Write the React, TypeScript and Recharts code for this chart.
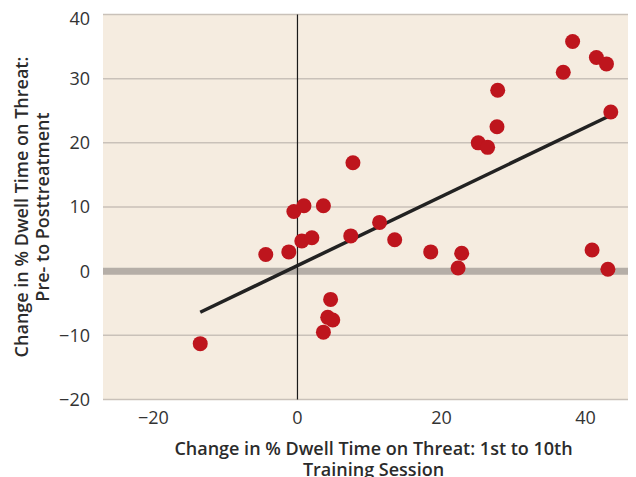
import {
  ScatterChart,
  Scatter,
  XAxis,
  YAxis,
  CartesianGrid,
  ReferenceLine,
} from 'recharts';

// change in dwell time, 1st to 10th training session
const trainingChange = [
  -13.5, -4.4, -1.2, -0.5, 0.9, 0.6, 2.0, 3.6, 3.6, 4.2, 4.6, 4.9, 7.4, 7.7,
  11.4, 13.5, 18.5, 22.3, 22.8, 25.1, 26.4, 27.7, 27.8, 36.9, 38.2, 40.9,
  41.5, 42.9, 43.1, 43.5,
];

// change in dwell time, pre- to posttreatment
const treatmentChange = [
  -11.3, 2.6, 3.0, 9.3, 10.2, 4.7, 5.2, 10.2, -9.5, -7.2, -4.4, -7.6, 5.5, 16.9,
  7.6, 4.9, 3.0, 0.5, 2.8, 20.0, 19.3, 22.5, 28.2, 31.0, 35.8, 3.3, 33.3, 32.3,
  0.3, 24.8,
];

const fitX = [-13.5, 43.5];
const fitY = [-6.4, 24.3];

const xTicks = [-20, 0, 20, 40];
const yTicks = [-20, -10, 0, 10, 20, 30, 40];

const points = trainingChange.map((x, i) => ({ x, y: treatmentChange[i] }));
const fitLine = fitX.map((x, i) => ({ x, y: fitY[i] }));

const FONT = '"Open Sans", Lato, sans-serif';
const fmt = (v: number) => (v < 0 ? `\u2212${Math.abs(v)}` : `${v}`);

const XTitle = ({ viewBox }: any) => {
  const { x, y, width } = viewBox;
  const cx = x + width / 2 + 4;
  return (
    <text x={cx} y={y + 55} textAnchor="middle" fontFamily={FONT} fontWeight={600} fontSize={18} fill="#2b2b2b">
      <tspan x={cx}>Change in % Dwell Time on Threat: 1st to 10th</tspan>
      <tspan x={cx} dy={21}>Training Session</tspan>
    </text>
  );
};

const YTitle = ({ viewBox }: any) => {
  const { y, height } = viewBox;
  const cy = y + height / 2;
  return (
    <g transform={`translate(0, ${cy}) rotate(-90)`}>
      <text x={0} y={20} textAnchor="middle" fontFamily={FONT} fontWeight={600} fontSize={18} fill="#2b2b2b">
        <tspan x={0}>Change in % Dwell Time on Threat:</tspan>
        <tspan x={0} dy={21}>Pre- to Posttreatment</tspan>
      </text>
    </g>
  );
};

export default function App() {
  return (
    <ScatterChart
      width={628}
      height={469}
      margin={{ top: 6.5, right: 0, bottom: 0, left: 0 }}
      style={{ fontFamily: FONT }}
    >
      <CartesianGrid vertical={false} fill="#f5ece0" stroke="#c9c1b9" strokeWidth={1.5} />
      <XAxis
        type="number"
        dataKey="x"
        domain={[-27, 47]}
        ticks={xTicks}
        tickFormatter={fmt}
        axisLine={false}
        tickLine={false}
        height={77.5}
        tickMargin={6}
        tick={{ fontSize: 18, fill: '#333', fontWeight: 400 }}
        label={<XTitle />}
      />
      <YAxis
        type="number"
        dataKey="y"
        domain={[-20, 40]}
        ticks={yTicks}
        tickFormatter={fmt}
        axisLine={false}
        tickLine={false}
        width={95}
        tickMargin={7}
        tick={{ fontSize: 18, fill: '#333', fontWeight: 400 }}
        label={<YTitle />}
      />
      <ReferenceLine y={0} stroke="#b5aea7" strokeWidth={7} />
      <ReferenceLine x={0} stroke="#1a1a1a" strokeWidth={1.2} />
      <Scatter
        data={fitLine}
        line={{ stroke: '#222', strokeWidth: 3.5 }}
        shape={() => null}
        isAnimationActive={false}
      />
      <Scatter data={points} fill="#be151d" shape={(p: any) => <circle cx={p.cx} cy={p.cy} r={7.5} fill="#be151d" />} isAnimationActive={false} />
    </ScatterChart>
  );
}
